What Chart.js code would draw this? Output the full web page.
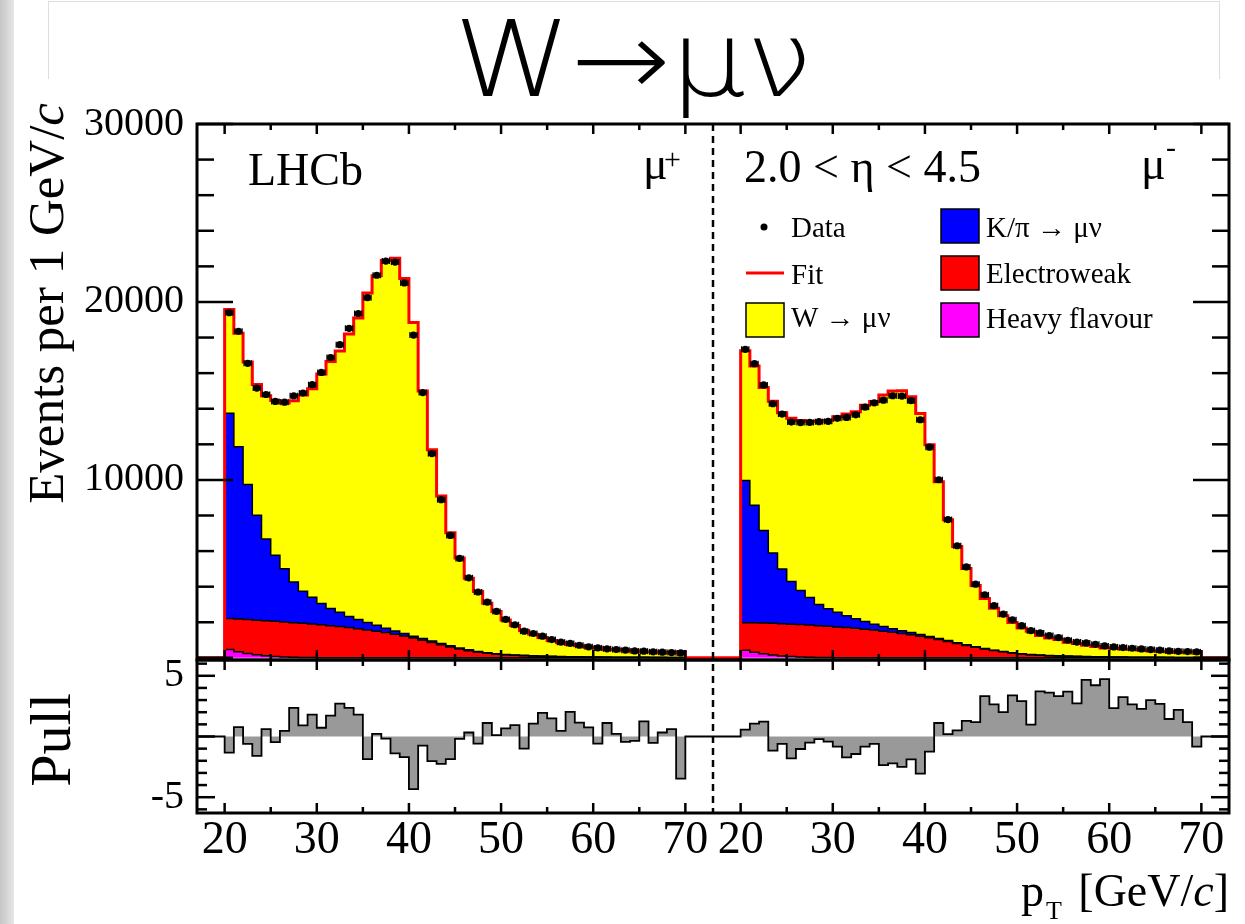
<!DOCTYPE html>
<html>
<head>
<meta charset="utf-8">
<script src="https://cdn.jsdelivr.net/npm/chart.js@4.4.1/dist/chart.umd.min.js"></script>
<style>
  html, body { margin: 0; padding: 0; background: #fff; }
  #wrap { position: relative; width: 1245px; height: 924px; overflow: hidden; }
  .edge { position: absolute; left: 0; top: 0; width: 14px; height: 924px; background: linear-gradient(to right, #c6c6c6, #e6e6e6); }
  .box { position: absolute; left: 48px; top: 1px; width: 1170px; height: 77px; border: 1px solid #dedede; border-bottom: none; }
  canvas { position: absolute; left: 0; top: 0; }
</style>
</head>
<body>
<div id="wrap">
  <div class="edge"></div>
  <div class="box"></div>
  <canvas id="chart" width="1245" height="924"></canvas>
</div>
<script>
// bin low edges, 1 GeV bins from 20 to 70
var ptEdges = [20, 21, 22, 23, 24, 25, 26, 27, 28, 29,
               30, 31, 32, 33, 34, 35, 36, 37, 38, 39,
               40, 41, 42, 43, 44, 45, 46, 47, 48, 49,
               50, 51, 52, 53, 54, 55, 56, 57, 58, 59,
               60, 61, 62, 63, 64, 65, 66, 67, 68, 69];
var xTickValues = [20, 30, 40, 50, 60, 70];
var yTickValues = [0, 10000, 20000, 30000];
var pullTickValues = [-5, 0, 5];
var PANEL_SHIFT = 56;   // the mu- panel sits 56 GeV to the right of the mu+ panel

// ---- mu+ ----
var dataPlus = [19400, 18350, 16550, 15160, 14800, 14410, 14370, 14730, 14880, 15350,
                16040, 16880, 17600, 18520, 19350, 20240, 21500, 22300, 22240, 21070,
                18140, 14910, 11480, 8890, 6880, 5590, 4500, 3700, 3130, 2610,
                2160, 1860, 1500, 1370, 1220, 1030, 880, 810, 710, 620,
                560, 510, 470, 430, 390, 375, 340, 320, 300, 280];
var fitPlus = [19580, 18245, 16630, 15360, 14725, 14465, 14315, 14445, 14770, 15125,
               15950, 16655, 17240, 18200, 19100, 20505, 21470, 22325, 22450, 21320,
               18850, 15000, 11700, 9100, 7035, 5605, 4480, 3735, 3070, 2605,
               2130, 1820, 1540, 1330, 1150, 980, 865, 750, 680, 600,
               575, 485, 465, 440, 397, 350, 350, 314, 290, 335];
// upper edges of the stacked components (cumulative)
var kpiTopPlus = [13750, 11870, 9740, 8010, 6680, 5760, 5010, 4260, 3750, 3410,
                  3060, 2780, 2560, 2330, 2150, 1990, 1830, 1660, 1510, 1370,
                  1220, 1090, 950, 810, 680, 560, 450, 360, 290, 235,
                  195, 165, 140, 120, 104, 90, 78, 68, 60, 53,
                  48, 44, 40, 37, 34, 32, 30, 28, 26, 24];
var ewTopPlus = [2210, 2180, 2150, 2120, 2090, 2060, 2020, 1980, 1940, 1900,
                 1860, 1810, 1760, 1700, 1640, 1570, 1500, 1420, 1330, 1230,
                 1110, 990, 860, 730, 610, 500, 400, 320, 255, 205,
                 170, 140, 120, 103, 90, 78, 68, 60, 53, 47,
                 43, 39, 36, 33, 31, 29, 27, 25, 24, 22];
var hfTopPlus = [470, 350, 250, 175, 115, 75, 50, 33, 22, 15,
                 11, 8, 6, 5, 4, 3, 3, 2, 2, 2,
                 2, 2, 1, 1, 1, 1, 1, 1, 1, 1,
                 1, 1, 1, 1, 1, 1, 1, 1, 1, 1,
                 1, 1, 1, 1, 1, 1, 1, 1, 1, 1];
var pullPlus = [-1.33, 0.78, -0.61, -1.6, 0.61, -0.47, 0.47, 2.36, 0.92, 1.8,
                0.72, 1.72, 2.7, 2.36, 1.8, -1.86, 0.22, -0.17, -1.39, -1.7,
                -4.33, -0.75, -2.03, -2.25, -1.86, -0.19, 0.33, -0.58, 1.11, 0.11,
                0.67, 0.94, -1.0, 1.06, 1.94, 1.5, 0.47, 2.03, 1.14, 0.75,
                -0.58, 1.11, 0.22, -0.44, -0.36, 1.25, -0.53, 0.33, 0.61, -3.47];

// ---- mu- ----
var dataMinus = [17340, 16530, 15340, 14280, 13700, 13250, 13220, 13230, 13270, 13290,
                 13460, 13510, 13660, 14090, 14330, 14480, 14730, 14710, 14450, 13380,
                 11840, 10010, 7770, 6300, 5110, 4140, 3540, 2930, 2460, 2140,
                 1810, 1530, 1400, 1250, 1140, 990, 890, 840, 760, 670,
                 615, 580, 540, 500, 465, 430, 390, 370, 355, 335];
var fitMinus = [17265, 16395, 15190, 14420, 13770, 13460, 13340, 13290, 13295, 13340,
                13555, 13710, 13830, 14190, 14405, 14765, 15000, 15015, 14680, 13735,
                11975, 9900, 7755, 6260, 5020, 4065, 3340, 2790, 2360, 1985,
                1685, 1490, 1260, 1120, 1030, 875, 810, 705, 645, 550,
                560, 500, 480, 450, 400, 375, 360, 330, 333, 350];
var kpiTopMinus = [9970, 8570, 7160, 5890, 5000, 4290, 3780, 3390, 3000, 2760,
                   2560, 2370, 2200, 2040, 1890, 1760, 1640, 1530, 1420, 1310,
                   1200, 1090, 970, 850, 735, 630, 525, 430, 360, 292,
                   235, 193, 161, 135, 114, 98, 85, 74, 65, 57,
                   51, 46, 41, 38, 35, 32, 29, 27, 25, 23];
var ewTopMinus = [1975, 1970, 1960, 1940, 1920, 1895, 1870, 1840, 1810, 1775,
                  1740, 1700, 1660, 1610, 1560, 1500, 1440, 1370, 1300, 1220,
                  1130, 1030, 920, 810, 700, 600, 500, 410, 340, 275,
                  220, 180, 150, 125, 105, 90, 78, 68, 60, 53,
                  47, 42, 38, 35, 32, 29, 27, 25, 23, 21];
var hfTopMinus = [430, 320, 230, 160, 105, 70, 45, 30, 20, 14,
                  10, 8, 6, 5, 4, 3, 3, 2, 2, 2,
                  2, 2, 1, 1, 1, 1, 1, 1, 1, 1,
                  1, 1, 1, 1, 1, 1, 1, 1, 1, 1,
                  1, 1, 1, 1, 1, 1, 1, 1, 1, 1];
var pullMinus = [0.56, 1.06, 1.22, -1.17, -0.61, -1.8, -1.03, -0.5, -0.22, -0.42,
                 -0.83, -1.72, -1.44, -0.83, -0.61, -2.36, -2.22, -2.5, -1.89, -3.06,
                 -1.25, 1.11, 0.19, 0.5, 1.28, 1.19, 3.33, 2.64, 2.0, 3.39,
                 2.92, 0.97, 3.72, 3.61, 3.33, 3.69, 2.72, 4.67, 4.22, 4.72,
                 2.33, 3.25, 2.64, 2.28, 3.0, 2.69, 1.44, 2.19, 1.19, -0.83];

var SERIF = "'Liberation Serif', 'Times New Roman', serif";

// histogram as a step line over both panels, zero outside 20-70
function histPoints(plus, minus) {
  var pts = [{ x: 17, y: 0 }];
  plus.forEach(function (v, i) { pts.push({ x: ptEdges[i], y: v }); });
  pts.push({ x: 70, y: 0 });
  minus.forEach(function (v, i) { pts.push({ x: ptEdges[i] + PANEL_SHIFT, y: v }); });
  pts.push({ x: 70 + PANEL_SHIFT, y: 0 }, { x: 73 + PANEL_SHIFT, y: 0 });
  return pts;
}
function centerPoints(plus, minus) {
  var pts = [];
  plus.forEach(function (v, i) { pts.push({ x: ptEdges[i] + 0.5, y: v }); });
  minus.forEach(function (v, i) { pts.push({ x: ptEdges[i] + 0.5 + PANEL_SHIFT, y: v }); });
  return pts;
}
function line(ctx, x1, y1, x2, y2) {
  ctx.beginPath(); ctx.moveTo(x1, y1); ctx.lineTo(x2, y2); ctx.stroke();
}

var errorBars = {
  id: 'errorBars',
  afterDatasetsDraw: function (chart) {
    var ctx = chart.ctx;
    var xs = chart.scales.x;
    var half = (xs.getPixelForValue(1) - xs.getPixelForValue(0)) / 2;
    ctx.save();
    ctx.strokeStyle = '#000';
    ctx.lineWidth = 1.3;
    chart.getDatasetMeta(0).data.forEach(function (p) {
      line(ctx, p.x - half + 1, p.y, p.x + half - 1, p.y);
      line(ctx, p.x - half + 1, p.y - 3, p.x - half + 1, p.y + 3);
      line(ctx, p.x + half - 1, p.y - 3, p.x + half - 1, p.y + 3);
    });
    ctx.restore();
  }
};

// ROOT style frame: ticks inside, on all sides, dashed panel separator
var rootFrame = {
  id: 'rootFrame',
  afterDatasetsDraw: function (chart) {
    var ctx = chart.ctx;
    var xs = chart.scales.x, yT = chart.scales.yTop, yP = chart.scales.yPull;
    var L = xs.left, R = xs.right;
    ctx.save();
    ctx.strokeStyle = '#000';
    ctx.lineWidth = 2.5;
    ctx.setLineDash([7, 5]);
    var sep = xs.getPixelForValue(73);
    line(ctx, sep, yT.top, sep, yP.bottom);
    ctx.setLineDash([]);
    var pads = [
      { s: yT, lo: 0, hi: 30000, step: 2000, major: 10000, lmaj: 36, lmin: 17 },
      { s: yP, lo: -6, hi: 6, step: 1, major: 5, lmaj: 18, lmin: 10 }
    ];
    pads.forEach(function (p) {
      for (var v = p.lo; v <= p.hi; v += p.step) {
        var y = p.s.getPixelForValue(v);
        var len = (v % p.major === 0) ? p.lmaj : p.lmin;
        line(ctx, L, y, L + len, y);
        line(ctx, R - len, y, R, y);
      }
      [0, PANEL_SHIFT].forEach(function (shift) {
        for (var pt = 20; pt <= 70; pt += 5) {
          var px = xs.getPixelForValue(pt + shift);
          var l = (pt % 10 === 0) ? 10 : 6;
          line(ctx, px, p.s.top, px, p.s.top + l);
          line(ctx, px, p.s.bottom - l, px, p.s.bottom);
        }
      });
    });
    ctx.lineWidth = 3;
    ctx.strokeRect(L, yT.top, R - L, yT.bottom - yT.top);
    ctx.strokeRect(L, yP.top, R - L, yP.bottom - yP.top);
    ctx.restore();
  }
};

var labels = {
  id: 'labels',
  afterDraw: function (chart) {
    var ctx = chart.ctx;
    ctx.save();
    ctx.fillStyle = '#000';
    ctx.textBaseline = 'alphabetic';

    // title
    ctx.save();
    ctx.translate(633, 96);
    ctx.scale(1.12, 1);
    ctx.font = "200 106px 'DejaVu Sans'";
    ctx.textAlign = 'center';
    ctx.fillText('W\u2192\u03bc\u03bd', 0, 0);
    ctx.restore();

    // y title: "Events per 1 GeV/c", top-aligned
    ctx.save();
    ctx.font = '51px ' + SERIF;
    var w1 = ctx.measureText('Events per 1 GeV/').width;
    ctx.font = 'italic 51px ' + SERIF;
    var w2 = ctx.measureText('c').width;
    ctx.translate(63, 103 + w1 + w2);
    ctx.rotate(-Math.PI / 2);
    ctx.textAlign = 'left';
    ctx.font = '51px ' + SERIF;
    ctx.fillText('Events per 1 GeV/', 0, 0);
    ctx.font = 'italic 51px ' + SERIF;
    ctx.fillText('c', w1, 0);
    ctx.restore();

    // pull title
    ctx.save();
    ctx.translate(70, 740);
    ctx.rotate(-Math.PI / 2);
    ctx.font = '58px ' + SERIF;
    ctx.textAlign = 'center';
    ctx.fillText('Pull', 0, 0);
    ctx.restore();

    // x title: p_T [GeV/c], right aligned to the frame
    var right = chart.scales.x.right;
    ctx.textAlign = 'left';
    ctx.font = '46px ' + SERIF;
    var wb = ctx.measureText(']').width, wg = ctx.measureText('[GeV/').width;
    ctx.font = 'italic 46px ' + SERIF;
    var wc = ctx.measureText('c').width;
    var xs0 = right - wb - wc - wg;
    ctx.font = '46px ' + SERIF;
    ctx.fillText('[GeV/', xs0, 906);
    ctx.fillText(']', right - wb, 906);
    ctx.font = 'italic 46px ' + SERIF;
    ctx.fillText('c', xs0 + wg, 906);
    ctx.font = '26px ' + SERIF;
    ctx.fillText('T', 1046, 919);
    ctx.font = '46px ' + SERIF;
    ctx.fillText('p', 1021, 906);

    // panel texts
    ctx.font = '46px ' + SERIF;
    ctx.fillText('LHCb', 248, 185);
    ctx.fillText('\u03bc', 643, 179);
    ctx.fillText('2.0 < \u03b7 < 4.5', 744, 182);
    ctx.fillText('\u03bc', 1141, 179);
    ctx.font = '30px ' + SERIF;
    ctx.fillText('+', 664, 169);
    ctx.fillText('-', 1166, 157);

    // legend
    ctx.font = '29px ' + SERIF;
    ctx.beginPath(); ctx.arc(764, 227, 3.5, 0, Math.PI * 2); ctx.fill();
    ctx.fillText('Data', 791, 237);
    ctx.strokeStyle = '#ff0000'; ctx.lineWidth = 3;
    line(ctx, 746, 273, 784, 273);
    ctx.fillText('Fit', 791, 284);
    var boxes = [
      { x: 746, y: 303, c: '#ffff00', t: 'W \u2192 \u03bc\u03bd', ty: 327 },
      { x: 941, y: 209, c: '#0000ff', t: 'K/\u03c0 \u2192 \u03bc\u03bd', ty: 237 },
      { x: 941, y: 256, c: '#ff0000', t: 'Electroweak', ty: 283 },
      { x: 941, y: 303, c: '#ff00ff', t: 'Heavy flavour', ty: 328 }
    ];
    ctx.strokeStyle = '#000'; ctx.lineWidth = 1.5;
    boxes.forEach(function (b) {
      ctx.fillStyle = b.c;
      ctx.fillRect(b.x, b.y, 38, 34);
      ctx.strokeRect(b.x, b.y, 38, 34);
      ctx.fillStyle = '#000';
      ctx.fillText(b.t, b.x + 45, b.ty);
    });
    ctx.restore();
  }
};

var serifTicks = { family: SERIF, size: 40 };

new Chart(document.getElementById('chart'), {
  type: 'line',
  data: {
    datasets: [
      { label: 'Data', data: centerPoints(dataPlus, dataMinus), showLine: false,
        pointRadius: 3.6, pointBackgroundColor: '#000', pointBorderWidth: 0,
        yAxisID: 'yTop', order: 0 },
      { label: 'Fit', data: histPoints(fitPlus, fitMinus), stepped: 'before',
        borderColor: '#ff0000', borderWidth: 3, backgroundColor: '#ffff00',
        fill: 2, pointRadius: 0, yAxisID: 'yTop', order: 1 },
      { label: 'K/pi -> mu nu', data: histPoints(kpiTopPlus, kpiTopMinus), stepped: 'before',
        borderColor: '#000', borderWidth: 1.5, backgroundColor: '#0000ff',
        fill: 3, pointRadius: 0, yAxisID: 'yTop', order: 2 },
      { label: 'Electroweak', data: histPoints(ewTopPlus, ewTopMinus), stepped: 'before',
        borderColor: '#000', borderWidth: 1.5, backgroundColor: '#ff0000',
        fill: 4, pointRadius: 0, yAxisID: 'yTop', order: 3 },
      { label: 'Heavy flavour', data: histPoints(hfTopPlus, hfTopMinus), stepped: 'before',
        borderColor: '#000', borderWidth: 1.5, backgroundColor: '#ff00ff',
        fill: 'origin', pointRadius: 0, yAxisID: 'yTop', order: 4 },
      { label: 'Pull', data: histPoints(pullPlus, pullMinus), stepped: 'before',
        borderColor: '#000', borderWidth: 1.8, backgroundColor: '#999999',
        fill: 'origin', pointRadius: 0, yAxisID: 'yPull', order: 5 }
    ]
  },
  options: {
    responsive: false,
    devicePixelRatio: 1,
    animation: false,
    events: [],
    layout: { padding: { left: 0, right: 16, top: 124, bottom: 41 } },
    plugins: {
      legend: { display: false },
      tooltip: { enabled: false },
      filler: { drawTime: 'beforeDatasetsDraw' }
    },
    scales: {
      x: {
        type: 'linear', position: 'bottom', min: 17, max: 73 + PANEL_SHIFT,
        grid: { display: false, drawTicks: false }, border: { display: false },
        afterBuildTicks: function (s) {
          var t = [];
          xTickValues.forEach(function (v) { t.push({ value: v }); });
          xTickValues.forEach(function (v) { t.push({ value: v + PANEL_SHIFT }); });
          s.ticks = t;
        },
        afterFit: function (s) { s.height = 70; },
        ticks: {
          autoSkip: false, maxRotation: 0, padding: 0, color: '#000',
          font: { family: SERIF, size: 46 },
          callback: function (v) { return String(v > 73 ? v - PANEL_SHIFT : v); }
        }
      },
      yTop: {
        type: 'linear', position: 'left', stack: 'pads', stackWeight: 536, weight: 1,
        min: -120, max: 30000,
        grid: { display: false, drawTicks: false }, border: { display: false },
        afterBuildTicks: function (s) { s.ticks = yTickValues.map(function (v) { return { value: v }; }); },
        afterFit: function (s) { s.width = 197; },
        ticks: { padding: 13, color: '#000', font: serifTicks,
          callback: function (v) { return v === 0 ? '' : String(v); } }
      },
      yPull: {
        type: 'linear', position: 'left', stack: 'pads', stackWeight: 153, weight: 0,
        min: -6.3, max: 6.3,
        grid: { display: false, drawTicks: false }, border: { display: false },
        afterBuildTicks: function (s) { s.ticks = pullTickValues.map(function (v) { return { value: v }; }); },
        afterFit: function (s) { s.width = 197; },
        ticks: { padding: 13, color: '#000', font: serifTicks,
          callback: function (v) { return String(v); } }
      }
    }
  },
  plugins: [errorBars, rootFrame, labels]
});
</script>
</body>
</html>
